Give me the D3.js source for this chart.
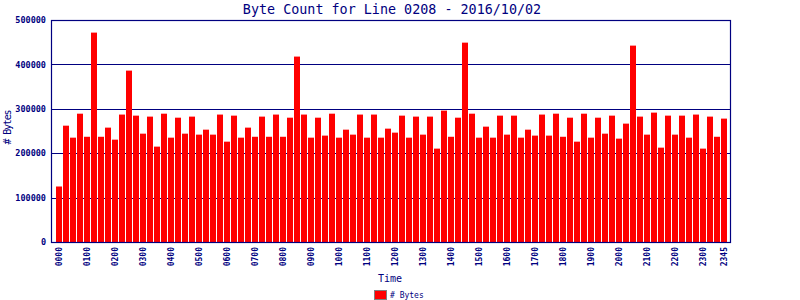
<!DOCTYPE html>
<html lang="en">
<head>
<meta charset="UTF-8">
<title>Byte Count for Line 0208</title>
<script src="https://cdn.jsdelivr.net/npm/d3@7"></script>
<style>
    body { margin: 0; background: #fff; }
    text { font-family: "DejaVu Sans Mono", "Liberation Mono", monospace; fill: #000080; }
</style>
</head>
<body>
<script>
    // 15 minute slots, 0000 .. 2345
    var times = [];
    for (var h = 0; h < 24; h++) {
        for (var m = 0; m < 60; m += 15) {
            times.push((h < 10 ? "0" : "") + h + (m < 10 ? "0" : "") + m);
        }
    }

    // byte counts
    var bytes = [
        125000, 262000, 235000, 289000, 237000, 471600, 237000, 257600,
        230500, 287000, 386000, 284600, 244000, 282400, 214800, 289000,
        235000, 280000, 244000, 282400, 241800, 253000, 241800, 287000,
        226000, 284600, 235000, 257600, 237000, 282400, 237000, 287000,
        237000, 280000, 417600, 287000, 235000, 280000, 239600, 289000,
        235000, 253000, 241800, 287000, 235000, 287000, 235000, 255300,
        246300, 284600, 235000, 282400, 241800, 282400, 210300, 295900,
        237000, 280000, 449000, 289000, 235000, 259800, 235000, 284600,
        241800, 284600, 235000, 253000, 239600, 287000, 239600, 289000,
        237000, 280000, 226000, 289000, 235000, 280000, 244000, 284600,
        232800, 266600, 442300, 282400, 241800, 291400, 212500, 284600,
        241800, 284600, 235000, 287000, 210300, 282400, 237000, 277900
    ];

    var xTickLabels = ["0000", "0100", "0200", "0300", "0400", "0500", "0600", "0700",
        "0800", "0900", "1000", "1100", "1200", "1300", "1400", "1500", "1600",
        "1700", "1800", "1900", "2000", "2100", "2200", "2300", "2345"];
    var yTicks = [0, 100000, 200000, 300000, 400000, 500000];

    var width = 800, height = 300;
    var plot = {left: 51, right: 730, top: 20, bottom: 242};
    var navy = "#000080";

    var svg = d3.select("body").append("svg")
        .attr("width", width)
        .attr("height", height);

    var x = d3.scaleBand()
        .domain(times)
        .range([56, 727])
        .paddingInner(1 / 7)
        .paddingOuter(0);

    var y = d3.scaleLinear()
        .domain([0, 500000])
        .range([plot.bottom, plot.top]);

    // grid lines
    svg.append("g").selectAll("line")
        .data(yTicks)
        .enter()
        .append("line")
        .attr("x1", plot.left)
        .attr("x2", plot.right)
        .attr("y1", function (d) { return Math.round(y(d)) + 0.5; })
        .attr("y2", function (d) { return Math.round(y(d)) + 0.5; })
        .attr("stroke", navy)
        .attr("stroke-width", 1.2);

    // bars
    svg.append("g").selectAll("rect")
        .data(bytes)
        .enter()
        .append("rect")
        .attr("x", function (d, i) { return x(times[i]); })
        .attr("width", x.bandwidth())
        .attr("y", function (d) { return y(d); })
        .attr("height", function (d) { return plot.bottom - y(d); })
        .attr("fill", "#ff0000");

    // frame
    svg.append("rect")
        .attr("x", plot.left + 0.5)
        .attr("y", plot.top + 0.5)
        .attr("width", plot.right - plot.left)
        .attr("height", plot.bottom - plot.top)
        .attr("fill", "none")
        .attr("stroke", navy)
        .attr("stroke-width", 1.2);

    // y axis labels
    var axisY = d3.axisLeft(y).tickValues(yTicks).tickSize(0).tickPadding(5)
        .tickFormat(function (d) { return String(d); });
    var gy = svg.append("g")
        .attr("transform", "translate(" + plot.left + ",0)")
        .call(axisY);
    gy.select(".domain").remove();
    gy.selectAll("text")
        .attr("font-size", "8.5px")
        .attr("font-weight", "bold")
        .attr("font-family", "'DejaVu Sans Mono', monospace")
        .attr("fill", navy);

    // x axis labels
    var axisX = d3.axisBottom(x).tickValues(xTickLabels).tickSize(0).tickPadding(0);
    var gx = svg.append("g")
        .attr("transform", "translate(0," + plot.bottom + ")")
        .call(axisX);
    gx.select(".domain").remove();
    gx.selectAll("text")
        .attr("font-size", "8px")
        .attr("font-weight", "bold")
        .attr("font-family", "'DejaVu Sans Mono', monospace")
        .attr("fill", navy)
        .attr("text-anchor", "end")
        .attr("transform", "rotate(-90)")
        .attr("x", -5)
        .attr("y", 0)
        .attr("dy", "0.32em");

    // title
    svg.append("text")
        .attr("x", 392)
        .attr("y", 14)
        .attr("text-anchor", "middle")
        .attr("font-size", "13.4px")
        .text("Byte Count for Line 0208 - 2016/10/02");

    // axis titles
    svg.append("text")
        .attr("x", 390)
        .attr("y", 282)
        .attr("text-anchor", "middle")
        .attr("font-size", "10px")
        .text("Time");

    svg.append("text")
        .attr("transform", "translate(11,127) rotate(-90)")
        .attr("text-anchor", "middle")
        .attr("font-size", "10px")
        .attr("textLength", 35)
        .attr("lengthAdjust", "spacing")
        .text("# Bytes");

    // legend
    svg.append("rect")
        .attr("x", 374.5)
        .attr("y", 290.5)
        .attr("width", 12)
        .attr("height", 9)
        .attr("fill", "#ff0000")
        .attr("stroke", "#808080");
    svg.append("text")
        .attr("x", 390)
        .attr("y", 298)
        .attr("font-size", "8px")
        .text("# Bytes");
</script>
</body>
</html>
